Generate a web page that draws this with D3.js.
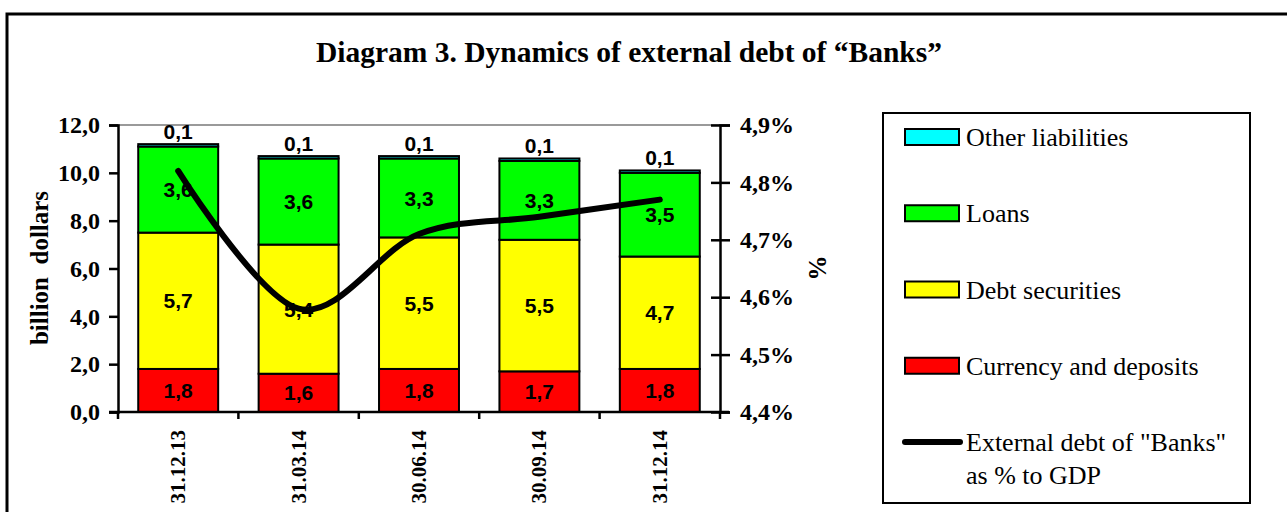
<!DOCTYPE html>
<html>
<head>
<meta charset="utf-8">
<script src="https://cdn.jsdelivr.net/npm/d3@7"></script>
<style>
  html, body { margin: 0; padding: 0; background: #fff; }
  svg { display: block; }
</style>
</head>
<body>
<svg id="chart" width="1287" height="512"></svg>
<script>
// ---- data ----
const categories = ["31.12.13", "31.03.14", "30.06.14", "30.09.14", "31.12.14"];
const currencyDeposits = [1.8, 1.6, 1.8, 1.7, 1.8];
const debtSecurities = [5.7, 5.4, 5.5, 5.5, 4.7];
const loans = [3.6, 3.6, 3.3, 3.3, 3.5];
const otherLiabilities = [0.1, 0.1, 0.1, 0.1, 0.1];
const debtPctGDP = [4.82, 4.58, 4.71, 4.74, 4.77];
const leftTicks = [0, 2, 4, 6, 8, 10, 12];
const rightTicks = [4.4, 4.5, 4.6, 4.7, 4.8, 4.9];
const seriesNames = ["Currency and deposits", "Debt securities", "Loans", "Other liabilities"];
const lineName = ["External debt of \"Banks\"", "as % to GDP"];
const titleText = "Diagram 3. Dynamics of external debt of \u201CBanks\u201D";

const colors = {
  "Currency and deposits": "#FF0000",
  "Debt securities": "#FFFF00",
  "Loans": "#00FF00",
  "Other liabilities": "#00FFFF"
};

const serif = "'Liberation Serif', 'Times New Roman', serif";
const sans = "'Liberation Sans', Arial, sans-serif";
const comma = v => d3.format(".1f")(v).replace(".", ",");

const svg = d3.select("#chart");

// outer frame
svg.append("rect").attr("x", 7).attr("y", 14).attr("width", 1300).attr("height", 520)
  .attr("fill", "none").attr("stroke", "#000").attr("stroke-width", 3);

// title
svg.append("text").attr("x", 629).attr("y", 62).attr("text-anchor", "middle")
  .attr("font-family", serif).attr("font-weight", "bold").attr("font-size", 29.5)
  .text(titleText);

// plot geometry
const plot = { left: 118, right: 720, top: 125, bottom: 412 };

const x = d3.scaleBand().domain(categories).range([plot.left, plot.right]).paddingInner(0.336).paddingOuter(0.168);
const y = d3.scaleLinear().domain([0, 12]).range([plot.bottom, plot.top]);
const y2 = d3.scaleLinear().domain([4.4, 4.9]).range([plot.bottom, plot.top]);

// top plot border
svg.append("line").attr("x1", plot.left).attr("x2", plot.right).attr("y1", plot.top).attr("y2", plot.top)
  .attr("stroke", "#9a9a9a").attr("stroke-width", 2);

// stacked data
const rows = categories.map((c, i) => ({
  cat: c,
  "Currency and deposits": currencyDeposits[i],
  "Debt securities": debtSecurities[i],
  "Loans": loans[i],
  "Other liabilities": otherLiabilities[i]
}));
const stacked = d3.stack().keys(seriesNames)(rows);

const gBars = svg.append("g");
stacked.forEach(layer => {
  gBars.selectAll(null).data(layer).enter().append("rect")
    .attr("x", d => x(d.data.cat))
    .attr("width", x.bandwidth())
    .attr("y", d => y(d[1]))
    .attr("height", d => y(d[0]) - y(d[1]))
    .attr("fill", colors[layer.key])
    .attr("stroke", "#000").attr("stroke-width", 2);
});

// data labels
stacked.forEach(layer => {
  const isTop = layer.key === "Other liabilities";
  gBars.selectAll(null).data(layer).enter().append("text")
    .attr("x", d => x(d.data.cat) + x.bandwidth() / 2)
    .attr("y", d => isTop ? y(d[1]) - 5 : (y(d[0]) + y(d[1])) / 2)
    .attr("dy", isTop ? 0 : "0.36em")
    .attr("text-anchor", "middle")
    .attr("font-family", sans).attr("font-weight", "bold").attr("font-size", 21)
    .text(d => comma(d[1] - d[0]));
});

// line
const line = d3.line()
  .x((d, i) => x(categories[i]) + x.bandwidth() / 2)
  .y(d => y2(d))
  .curve(d3.curveCatmullRom.alpha(0));
svg.append("path").datum(debtPctGDP).attr("d", line)
  .attr("fill", "none").attr("stroke", "#000").attr("stroke-width", 6)
  .attr("stroke-linecap", "round").attr("stroke-linejoin", "round");

// left axis
const gL = svg.append("g").attr("transform", `translate(${plot.left},0)`)
  .call(d3.axisLeft(y).tickValues(leftTicks).tickFormat(comma).tickSize(9).tickPadding(9));
gL.select(".domain").attr("stroke", "#000").attr("stroke-width", 2.5);
gL.selectAll(".tick line").attr("stroke", "#000").attr("stroke-width", 2.5);
gL.selectAll(".tick text").attr("font-family", serif).attr("font-weight", "bold").attr("font-size", 24).attr("fill", "#000");

// right axis
const gR = svg.append("g").attr("transform", `translate(${plot.right},0)`)
  .call(d3.axisRight(y2).tickValues(rightTicks).tickFormat(v => comma(v) + "%").tickSize(10).tickPadding(10));
gR.select(".domain").attr("stroke", "#000").attr("stroke-width", 2.5);
gR.selectAll(".tick line").attr("stroke", "#000").attr("stroke-width", 2.5).attr("x1", -9);
gR.selectAll(".tick text").attr("font-family", serif).attr("font-weight", "bold").attr("font-size", 24).attr("fill", "#000");

// bottom axis
const xTickScale = d3.scaleLinear().domain([0, categories.length]).range([plot.left, plot.right]);
const gB = svg.append("g").attr("transform", `translate(0,${plot.bottom})`);
gB.append("line").attr("x1", plot.left - 9).attr("x2", plot.right + 9).attr("y1", 0).attr("y2", 0)
  .attr("stroke", "#000").attr("stroke-width", 2.5);
gB.selectAll(".xt").data(d3.range(categories.length + 1)).enter().append("line")
  .attr("x1", d => xTickScale(d)).attr("x2", d => xTickScale(d))
  .attr("y1", 0).attr("y2", 7).attr("stroke", "#000").attr("stroke-width", 2.5);
gB.selectAll(".xl").data(categories).enter().append("text")
  .attr("transform", d => `translate(${x(d) + x.bandwidth() / 2 + 7},18) rotate(-90)`)
  .attr("text-anchor", "end")
  .attr("font-family", serif).attr("font-weight", "bold").attr("font-size", 21)
  .text(d => d);

// axis titles
svg.append("text").attr("transform", `translate(48,268) rotate(-90)`).attr("text-anchor", "middle")
  .attr("font-family", serif).attr("font-weight", "bold").attr("font-size", 25)
  .attr("xml:space", "preserve").style("white-space", "pre")
  .text("billion  dollars");
svg.append("text").attr("transform", `translate(826,268) rotate(-90)`).attr("text-anchor", "middle")
  .attr("font-family", serif).attr("font-weight", "bold").attr("font-size", 25)
  .text("%");

// legend
const leg = svg.append("g");
leg.append("rect").attr("x", 883).attr("y", 113).attr("width", 367).attr("height", 390)
  .attr("fill", "#fff").attr("stroke", "#000").attr("stroke-width", 2);
const legendItems = ["Other liabilities", "Loans", "Debt securities", "Currency and deposits"];
const legY = d3.scalePoint().domain([...legendItems, "line"]).range([137, 442]);
legendItems.forEach(name => {
  leg.append("rect").attr("x", 905).attr("y", legY(name) - 8).attr("width", 54).attr("height", 16)
    .attr("fill", colors[name]).attr("stroke", "#000").attr("stroke-width", 2);
  leg.append("text").attr("x", 966).attr("y", legY(name)).attr("dy", "0.35em")
    .attr("font-family", serif).attr("font-size", 26).text(name);
});
leg.append("line").attr("x1", 905).attr("x2", 960).attr("y1", legY("line")).attr("y2", legY("line"))
  .attr("stroke", "#000").attr("stroke-width", 6).attr("stroke-linecap", "round");
lineName.forEach((t, i) => {
  leg.append("text").attr("x", 966).attr("y", legY("line") + i * 33).attr("dy", "0.35em")
    .attr("font-family", serif).attr("font-size", 26).text(t);
});
</script>
</body>
</html>
